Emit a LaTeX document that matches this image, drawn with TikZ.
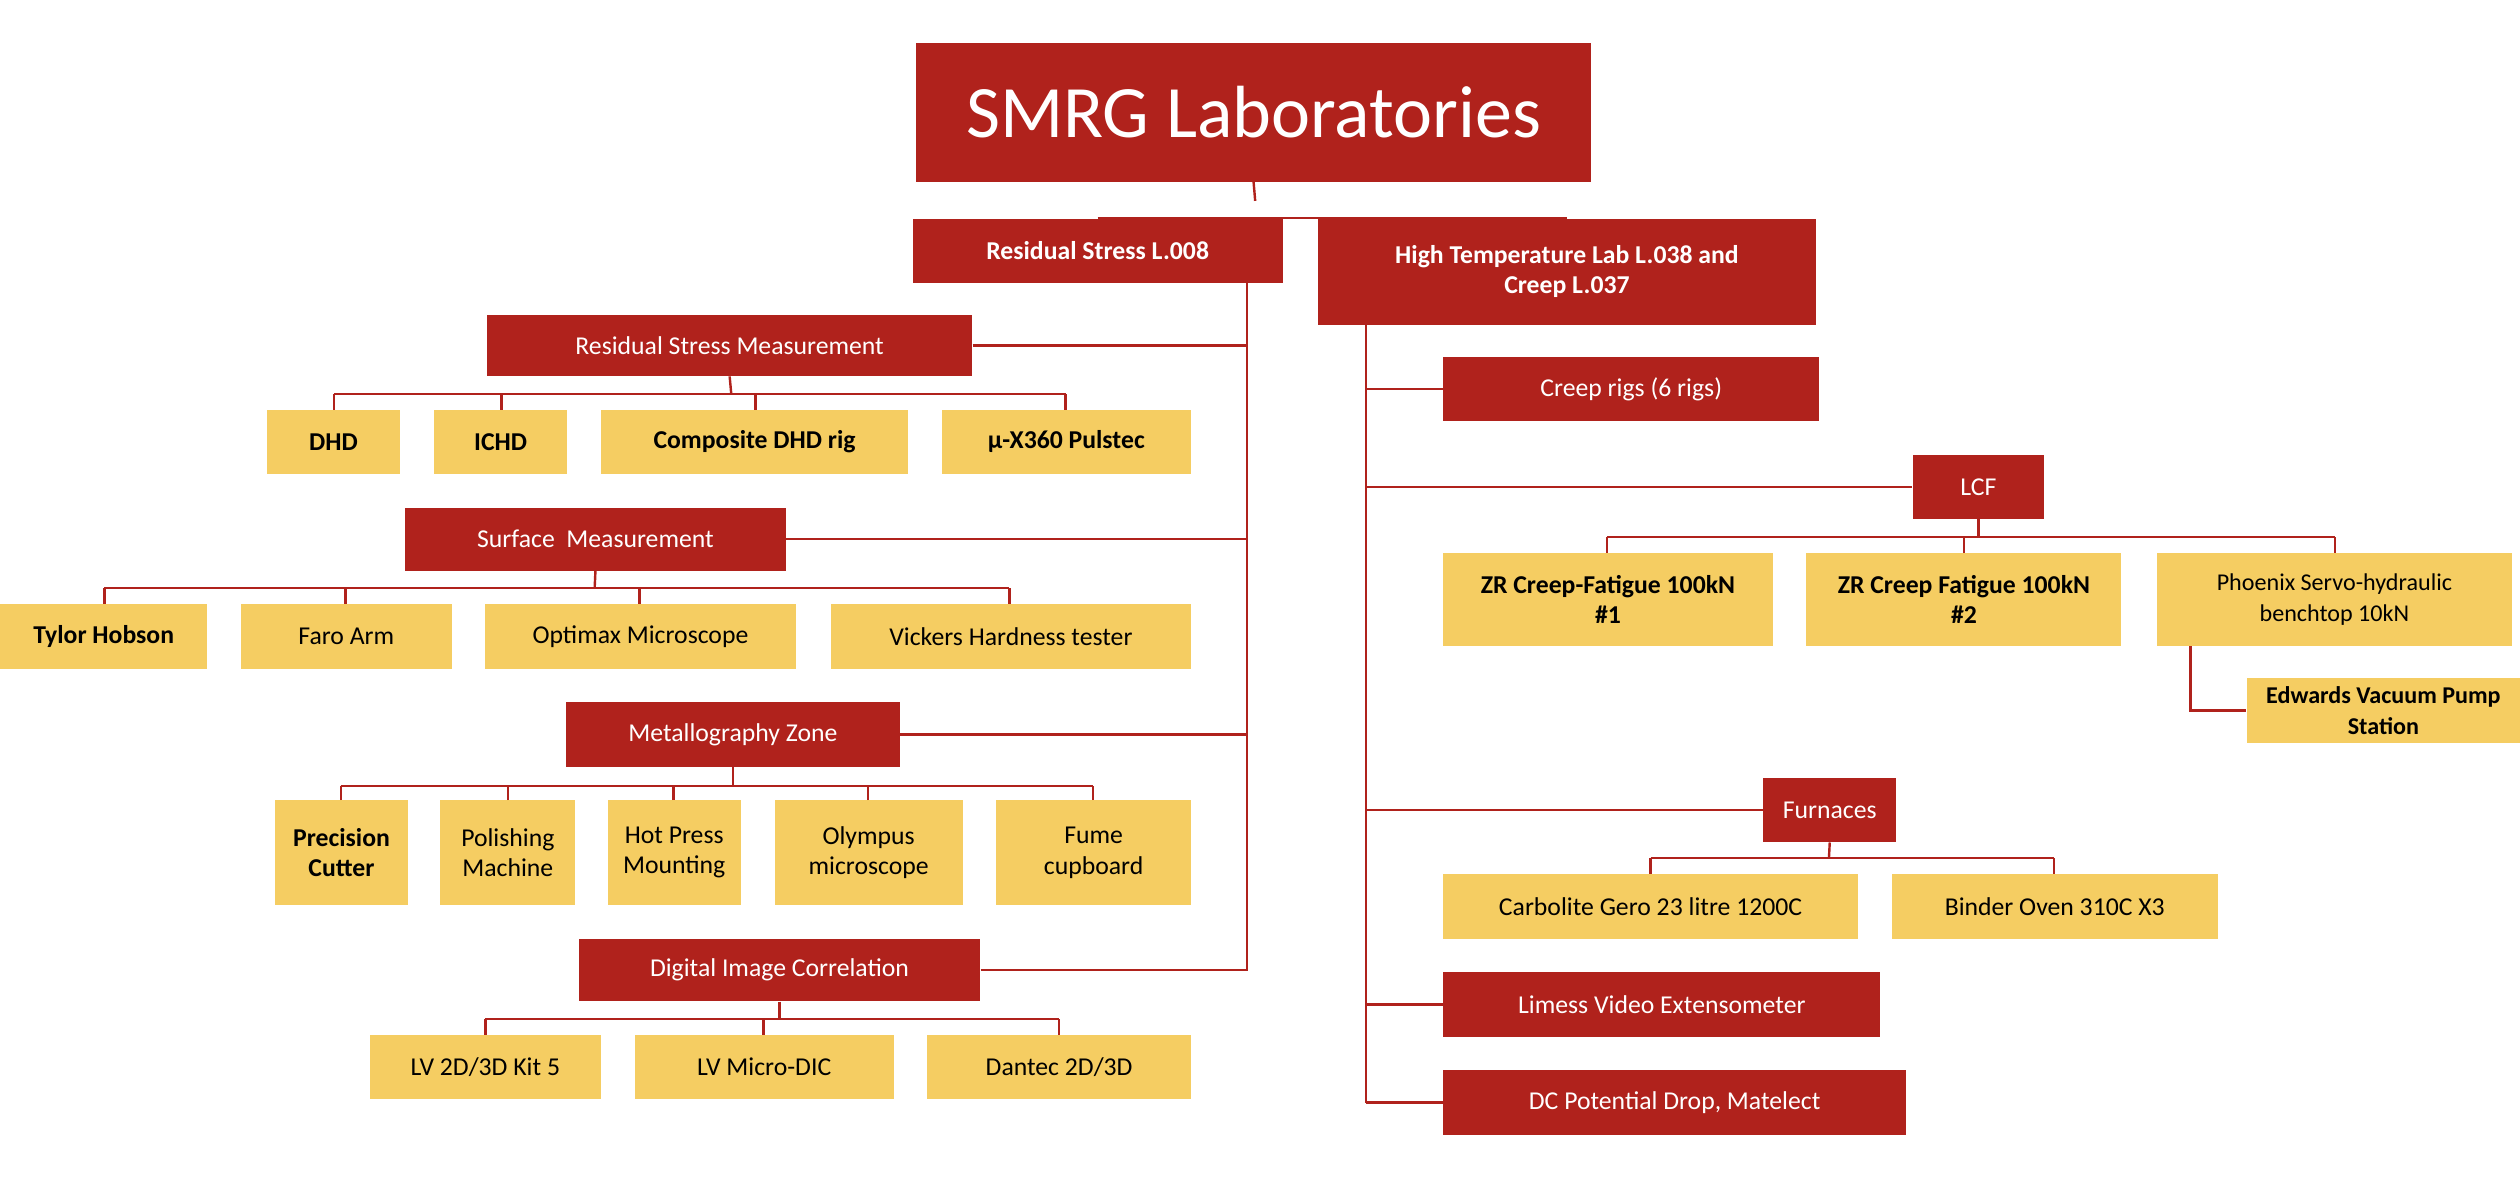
\documentclass[tikz,border=0pt]{standalone}
\usepackage{fontspec}
\setmainfont{Carlito}
\definecolor{dred}{HTML}{B0221C}
\definecolor{ylw}{HTML}{F5CD62}
\tikzset{
 rbox/.style={fill=dred,text=white,font=\fontsize{16}{18}\selectfont,inner sep=2pt,align=center},
 ybox/.style={fill=ylw,text=black,font=\fontsize{16}{18}\selectfont,inner sep=2pt,align=center},
 ln/.style={draw=dred,line width=1.5pt},
}
\newcommand{\bx}[7]{\node[#1,minimum width=#5-#4,minimum height=#7-#6] (#2) at ({(#4+#5)/2},{(#6+#7)/2}) {#3};}
\begin{document}
\begin{tikzpicture}[x=1pt,y=-1pt]
\useasboundingbox (0,0) rectangle (1568,745);
\bx{rbox,font=\fontsize{46}{50}\selectfont}{title}{SMRG Laboratories}{570}{990}{27}{113}
\bx{rbox,font=\fontsize{16}{18}\selectfont\bfseries}{rs}{Residual Stress L.008}{568}{798}{136}{176}
\bx{rbox,font=\fontsize{16}{19}\selectfont\bfseries}{ht}{High Temperature Lab L.038 and\\Creep L.037}{820}{1130}{136}{202}
% left
\bx{rbox}{rsm}{Residual Stress Measurement}{303}{605}{196}{234}
\bx{ybox,font=\fontsize{16}{18}\selectfont\bfseries}{dhd}{DHD}{166}{249}{255}{295}
\bx{ybox,font=\fontsize{16}{18}\selectfont\bfseries}{ichd}{ICHD}{270}{353}{255}{295}
\bx{ybox,font=\fontsize{16}{18}\selectfont\bfseries}{comp}{Composite DHD rig}{374}{565}{255}{295}
\bx{ybox,font=\fontsize{16}{18}\selectfont\bfseries}{pul}{µ-X360 Pulstec}{586}{741}{255}{295}
\bx{rbox}{sm}{Surface\ \ Measurement}{252}{489}{316}{355}
\bx{ybox,font=\fontsize{16}{18}\selectfont\bfseries}{tyl}{Tylor Hobson}{0}{129}{376}{416}
\bx{ybox}{faro}{Faro Arm}{150}{281}{376}{416}
\bx{ybox}{opt}{Optimax Microscope}{302}{495}{376}{416}
\bx{ybox}{vick}{Vickers Hardness tester}{517}{741}{376}{416}
\bx{rbox}{mz}{Metallography Zone}{352}{560}{437}{477}
\bx{ybox,font=\fontsize{16}{19}\selectfont\bfseries}{pc}{Precision\\Cutter}{171}{254}{498}{563}
\bx{ybox,font=\fontsize{16}{19}\selectfont}{pm}{Polishing\\Machine}{274}{358}{498}{563}
\bx{ybox,font=\fontsize{16}{19}\selectfont}{hp}{Hot Press\\Mounting}{378}{461}{498}{563}
\bx{ybox,font=\fontsize{16}{19}\selectfont}{oly}{Olympus\\microscope}{482}{599}{498}{563}
\bx{ybox,font=\fontsize{16}{19}\selectfont}{fume}{Fume\\cupboard}{620}{741}{498}{563}
\bx{rbox}{dic}{Digital Image Correlation}{360}{610}{584}{623}
\bx{ybox}{lv}{LV 2D/3D Kit 5}{230}{374}{644}{684}
\bx{ybox}{lvm}{LV Micro-DIC}{395}{556}{644}{684}
\bx{ybox}{dan}{Dantec 2D/3D}{577}{741}{644}{684}
% right
\bx{rbox}{creep}{Creep rigs (6 rigs)}{898}{1132}{222}{262}
\bx{rbox}{lcf}{LCF}{1190}{1272}{283}{323}
\bx{ybox,font=\fontsize{16}{19}\selectfont\bfseries}{zr1}{ZR Creep-Fatigue 100kN\\\#1}{898}{1103}{344}{402}
\bx{ybox,font=\fontsize{16}{19}\selectfont\bfseries}{zr2}{ZR Creep Fatigue 100kN\\\#2}{1124}{1320}{344}{402}
\bx{ybox,font=\fontsize{15}{19}\selectfont}{phx}{Phoenix Servo-hydraulic\\benchtop 10kN}{1342}{1563}{344}{402}
\bx{ybox,font=\fontsize{15}{19}\selectfont\bfseries}{edw}{Edwards Vacuum Pump\\Station}{1398}{1568}{422}{462}
\bx{rbox}{furn}{Furnaces}{1097}{1180}{484}{524}
\bx{ybox}{carb}{Carbolite Gero 23 litre 1200C}{898}{1156}{544}{584}
\bx{ybox}{bind}{Binder Oven 310C X3}{1177}{1380}{544}{584}
\bx{rbox}{lim}{Limess Video Extensometer}{898}{1170}{605}{645}
\bx{rbox}{dcp}{DC Potential Drop, Matelect}{898}{1186}{666}{706}
% connectors
\coordinate (tb) at (781,125);
\draw[ln] (title.south) -- (tb);
\draw[ln] (rs.north -| 683,0) |- (ht.north -| 975,0) -- (ht.north -| 975,0);
\coordinate (lspine) at (776,604);
\draw[ln] (rs.south -| 776,0) -- (lspine);
\foreach \n in {rsm,sm,mz,dic} \draw[ln] (\n.east) -- (\n.east -| lspine);
\coordinate (rspine) at (850,686);
\draw[ln] (ht.south -| rspine) -- (rspine);
\foreach \n in {creep,lcf,furn,lim,dcp} \draw[ln] (\n.west) -- (\n.west -| rspine);
% buses
\draw[ln] (rsm.south) -- (455,245);
\draw[ln] (208,245) -- (663,245);
\foreach \n/\x in {dhd/208,ichd/312,comp/470,pul/663} \draw[ln] (\n.north -| \x,0) -- (\x,245);
\draw[ln] (sm.south) -- (370,366);
\draw[ln] (65,366) -- (628,366);
\foreach \n/\x in {tyl/65,faro/215,opt/398,vick/628} \draw[ln] (\n.north -| \x,0) -- (\x,366);
\draw[ln] (mz.south) -- (456,489);
\draw[ln] (212,489) -- (680,489);
\foreach \n/\x in {pc/212,pm/316,hp/419,oly/540,fume/680} \draw[ln] (\n.north -| \x,0) -- (\x,489);
\draw[ln] (dic.south) -- (485,634);
\draw[ln] (302,634) -- (659,634);
\foreach \n/\x in {lv/302,lvm/475,dan/659} \draw[ln] (\n.north -| \x,0) -- (\x,634);
\draw[ln] (lcf.south) -- (1231,334);
\draw[ln] (1000,334) -- (1453,334);
\foreach \n/\x in {zr1/1000,zr2/1222,phx/1453} \draw[ln] (\n.north -| \x,0) -- (\x,334);
\draw[ln] (phx.south -| 1363,0) |- (edw.west);
\draw[ln] (furn.south) -- (1138,534);
\draw[ln] (1027,534) -- (1278,534);
\foreach \n/\x in {carb/1027,bind/1278} \draw[ln] (\n.north -| \x,0) -- (\x,534);
\end{tikzpicture}
\end{document}
